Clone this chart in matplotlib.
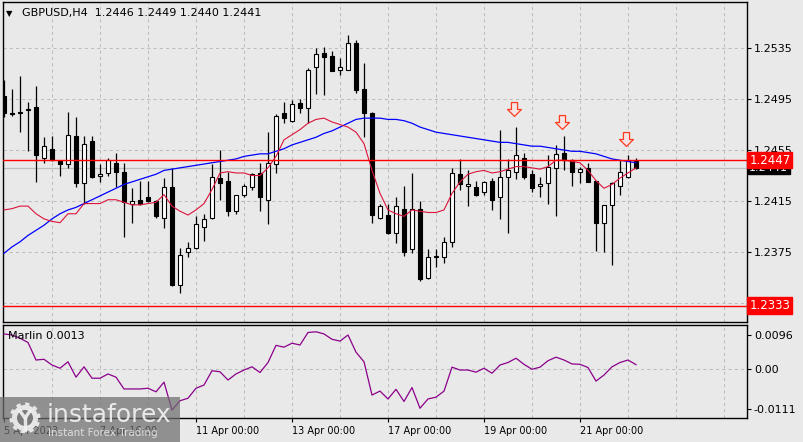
import numpy as np
import matplotlib
matplotlib.use("Agg")
import matplotlib.pyplot as plt
import matplotlib.patches as mpatches
import matplotlib.transforms as mtransforms
from matplotlib.path import Path

# GBPUSD H4 candles
opens = [1.2497, 1.2484, 1.2484, 1.2486, 1.2489, 1.2449, 1.2456, 1.2446, 1.2444, 1.2466,
         1.2429, 1.2462, 1.2435, 1.2437, 1.2445, 1.2438, 1.2413, 1.2416, 1.2418, 1.2415,
         1.2402, 1.2426, 1.2349, 1.2375, 1.2378, 1.2395, 1.2402, 1.2433, 1.2431, 1.2407,
         1.2420, 1.2426, 1.2437, 1.2416, 1.2444, 1.2484, 1.2478, 1.2492, 1.2488, 1.2520,
         1.2531, 1.2529, 1.2518, 1.2518, 1.2539, 1.2503, 1.2484, 1.2402, 1.2404, 1.2390,
         1.2409, 1.2377, 1.2409, 1.2355, 1.2371, 1.2371, 1.2383, 1.2436, 1.2427, 1.2426,
         1.2422, 1.2431, 1.2418, 1.2434, 1.2438, 1.2449, 1.2436, 1.2427, 1.2429, 1.2441,
         1.2453, 1.2447, 1.2438, 1.2441, 1.2431, 1.2398, 1.2412, 1.2427, 1.2434, 1.2446]
highs = [1.2510, 1.2503, 1.2513, 1.2493, 1.2505, 1.2465, 1.2466, 1.2446, 1.2485, 1.2481,
         1.2466, 1.2466, 1.2444, 1.2449, 1.2453, 1.2445, 1.2425, 1.2431, 1.2431, 1.2416,
         1.2433, 1.2441, 1.2378, 1.2383, 1.2403, 1.2405, 1.2444, 1.2455, 1.2438, 1.2420,
         1.2428, 1.2437, 1.2445, 1.2469, 1.2483, 1.2493, 1.2494, 1.2495, 1.2519, 1.2535,
         1.2536, 1.2533, 1.2527, 1.2545, 1.2541, 1.2523, 1.2485, 1.2413, 1.2413, 1.2418,
         1.2427, 1.2437, 1.2415, 1.2377, 1.2377, 1.2387, 1.2441, 1.2448, 1.2439, 1.2431,
         1.2431, 1.2433, 1.2471, 1.2448, 1.2473, 1.2453, 1.2439, 1.2434, 1.2451, 1.2459,
         1.2466, 1.2448, 1.2442, 1.2445, 1.2431, 1.2412, 1.2430, 1.2447, 1.2451, 1.2449]
lows = [1.2481, 1.2482, 1.2469, 1.2454, 1.2430, 1.2445, 1.2446, 1.2435, 1.2441, 1.2426,
        1.2413, 1.2433, 1.2430, 1.2435, 1.2426, 1.2387, 1.2398, 1.2412, 1.2414, 1.2402,
        1.2394, 1.2348, 1.2343, 1.2371, 1.2377, 1.2384, 1.2401, 1.2416, 1.2403, 1.2405,
        1.2418, 1.2424, 1.2407, 1.2397, 1.2437, 1.2476, 1.2477, 1.2484, 1.2476, 1.2499,
        1.2498, 1.2517, 1.2514, 1.2518, 1.2500, 1.2465, 1.2398, 1.2401, 1.2389, 1.2382,
        1.2372, 1.2374, 1.2352, 1.2354, 1.2363, 1.2366, 1.2379, 1.2424, 1.2411, 1.2419,
        1.2420, 1.2408, 1.2401, 1.2390, 1.2432, 1.2432, 1.2422, 1.2418, 1.2413, 1.2403,
        1.2439, 1.2427, 1.2429, 1.2430, 1.2376, 1.2375, 1.2365, 1.2420, 1.2433, 1.2440]
closes = [1.2484, 1.2483, 1.2485, 1.2487, 1.2451, 1.2458, 1.2447, 1.2444, 1.2467, 1.2429,
          1.2460, 1.2434, 1.2436, 1.2447, 1.2438, 1.2414, 1.2415, 1.2413, 1.2415, 1.2403,
          1.2426, 1.2349, 1.2373, 1.2378, 1.2397, 1.2401, 1.2434, 1.2429, 1.2407, 1.2420,
          1.2427, 1.2436, 1.2418, 1.2445, 1.2482, 1.2480, 1.2491, 1.2488, 1.2518, 1.2530,
          1.2528, 1.2517, 1.2520, 1.2539, 1.2502, 1.2484, 1.2404, 1.2411, 1.2390, 1.2411,
          1.2375, 1.2409, 1.2354, 1.2371, 1.2372, 1.2383, 1.2437, 1.2428, 1.2428, 1.2420,
          1.2430, 1.2416, 1.2434, 1.2439, 1.2451, 1.2434, 1.2425, 1.2428, 1.2442, 1.2452,
          1.2447, 1.2438, 1.2440, 1.2430, 1.2398, 1.2412, 1.2429, 1.2438, 1.2446, 1.2441]

# fast (crimson) and slow (blue) moving averages
ma_fast = [1.2408, 1.2409, 1.2411, 1.2411, 1.2405, 1.2401, 1.2399, 1.2398, 1.2405, 1.2405,
           1.2413, 1.2413, 1.2413, 1.2416, 1.2416, 1.2414, 1.2412, 1.2412, 1.2413, 1.2414,
           1.2420, 1.2411, 1.2407, 1.2404, 1.2408, 1.2413, 1.2424, 1.2437, 1.2438, 1.2437,
           1.2437, 1.2435, 1.2435, 1.2441, 1.2450, 1.2463, 1.2467, 1.2471, 1.2476, 1.2479,
           1.2480, 1.2477, 1.2475, 1.2473, 1.2469, 1.2460, 1.2439, 1.2421, 1.2408, 1.2405,
           1.2403, 1.2408, 1.2407, 1.2406, 1.2406, 1.2408, 1.2421, 1.2430, 1.2436, 1.2438,
           1.2439, 1.2437, 1.2438, 1.2440, 1.2442, 1.2442, 1.2441, 1.2440, 1.2442, 1.2447,
           1.2447, 1.2446, 1.2445, 1.2439, 1.2431, 1.2425, 1.2428, 1.2433, 1.2437, 1.2441]
ma_slow = [1.2374, 1.2379, 1.2383, 1.2388, 1.2392, 1.2396, 1.2401, 1.2405, 1.2408, 1.2410,
           1.2413, 1.2416, 1.2419, 1.2422, 1.2425, 1.2428, 1.2430, 1.2432, 1.2434, 1.2436,
           1.2439, 1.2440, 1.2441, 1.2442, 1.2443, 1.2444, 1.2445, 1.2446, 1.2447, 1.2448,
           1.2450, 1.2451, 1.2452, 1.2452, 1.2454, 1.2456, 1.2459, 1.2461, 1.2463, 1.2465,
           1.2468, 1.2470, 1.2473, 1.2476, 1.2479, 1.2480, 1.2480, 1.2480, 1.2479, 1.2479,
           1.2478, 1.2476, 1.2473, 1.2471, 1.2469, 1.2468, 1.2467, 1.2466, 1.2465, 1.2464,
           1.2463, 1.2462, 1.2461, 1.2461, 1.2460, 1.2459, 1.2458, 1.2458, 1.2457, 1.2456,
           1.2455, 1.2454, 1.2454, 1.2453, 1.2452, 1.2450, 1.2448, 1.2447, 1.2446, 1.2445]

# Marlin oscillator
marlin = [0.0099, 0.0096, 0.0087, 0.0075, 0.0026, 0.0028, 0.0012, 0.0003, 0.0021, -0.0022,
          0.0007, -0.0025, -0.0025, -0.0013, -0.0022, -0.0055, -0.0055, -0.0055, -0.0053, -0.0063,
          -0.0036, -0.0114, -0.0088, -0.0081, -0.0053, -0.0044, -0.0004, -0.0007, -0.0030, -0.0013,
          -0.0002, 0.0007, -0.0009, 0.0019, 0.0067, 0.0062, 0.0073, 0.0068, 0.0103, 0.0105,
          0.0099, 0.0084, 0.0079, 0.0096, 0.0048, 0.0021, -0.0072, -0.0061, -0.0083, -0.0056,
          -0.0090, -0.0051, -0.0109, -0.0083, -0.0078, -0.0061, 0.0006, -0.0002, -0.0002, -0.0008,
          0.0003, -0.0011, 0.0012, 0.0019, 0.0031, 0.0014, 0.0000, 0.0006, 0.0024, 0.0034,
          0.0026, 0.0015, 0.0014, 0.0005, -0.0033, -0.0016, 0.0007, 0.0019, 0.0026, 0.0013]

level_lines = [1.2447, 1.2333]
last_price = 1.2441
price_ticks = [1.2535, 1.2495, 1.2455, 1.2415, 1.2375, 1.2335]
osc_ticks = [0.0096, 0.0, -0.0111]
osc_tick_labels = ["0.0096", "0.00", "-0.0111"]
date_idx = [0, 12, 24, 36, 48, 60, 72]
date_labels = ["5 Apr 2023", "7 Apr 16:00", "11 Apr 00:00", "13 Apr 00:00",
               "17 Apr 00:00", "19 Apr 00:00", "21 Apr 00:00"]
arrow_idx = [63.7, 69.7, 77.7]
arrow_price = [1.2487, 1.2477, 1.2464]

BG = "#E9E9E9"
GRID = "#BDBDBD"
W, H = 804, 442

plt.rcParams["font.family"] = ["DejaVu Sans"]
fig = plt.figure(figsize=(W / 100, H / 100), dpi=100, facecolor=BG)


def px_axes(x0, y0, x1, y1):
    return fig.add_axes([x0 / W, 1 - y1 / H, (x1 - x0) / W, (y1 - y0) / H])


ax = px_axes(3, 2, 747, 322)
ax2 = px_axes(3, 325, 747, 418)

idx = np.arange(len(opens))
o = np.array(opens)
c = np.array(closes)
hi = np.array(highs)
lo = np.array(lows)

for a in (ax, ax2):
    a.set_facecolor(BG)
    a.set_xlim(-0.125, 92.875)
    for s in a.spines.values():
        s.set_color("black")
        s.set_linewidth(1.0)
    for g in range(6, 93, 6):
        a.axvline(g, color=GRID, lw=0.75, ls=(0, (3, 3)), zorder=0)

# main price panel
ax.set_ylim(1.23201, 1.25711)
for p in price_ticks:
    ax.axhline(p, color=GRID, lw=0.75, ls=(0, (3, 3)), zorder=0)
ax.axhline(last_price, color="#C0C0C0", lw=0.9, zorder=1)

ax.vlines(idx, lo, hi, color="black", lw=0.9, zorder=2)
up = c >= o
body_h = np.maximum(np.abs(c - o), 0.00002)
ax.bar(idx, body_h, bottom=np.minimum(o, c), width=0.55,
       color=np.where(up, "white", "black"), edgecolor="black", linewidth=0.8, zorder=3)

ax.plot(idx, ma_slow, color="#0000FF", lw=0.9, zorder=4)
ax.plot(idx, ma_fast, color="#DC143C", lw=0.8, zorder=4)
for lv in level_lines:
    ax.axhline(lv, color="#FF0000", lw=1.0, zorder=5)

# hollow down arrows
down_arrow = Path([(-0.22, 0.5), (0.22, 0.5), (0.22, 0.0), (0.5, 0.0), (0.0, -0.5),
                   (-0.5, 0.0), (-0.22, 0.0), (-0.22, 0.5)],
                  [Path.MOVETO] + [Path.LINETO] * 6 + [Path.CLOSEPOLY])
ax.plot(arrow_idx, arrow_price, ls="none", marker=down_arrow, markersize=10,
        markerfacecolor="#F6E4E4", markeredgecolor="#FF3B20", markeredgewidth=0.9, zorder=6)

ax.set_xticks([])
ax.yaxis.tick_right()
ax.set_yticks(price_ticks)
ax.set_yticklabels([f"{p:.4f}" for p in price_ticks])
ax.tick_params(axis="y", direction="out", length=3, width=0.8, pad=2, labelsize=8, colors="black")

trans = mtransforms.blended_transform_factory(ax.transAxes, ax.transData)
ax.text(1.003, last_price, f"{last_price:.4f}", transform=trans, fontsize=8, color="white",
        ha="left", va="center", clip_on=False, zorder=7,
        bbox=dict(boxstyle="square,pad=0.12", fc="black", ec="black"))
for lv in level_lines:
    ax.text(1.003, lv, f"{lv:.4f}", transform=trans, fontsize=8.5, color="white",
            ha="left", va="center", clip_on=False, zorder=8,
            bbox=dict(boxstyle="square,pad=0.15", fc="#FF0000", ec="#FF0000"))

ax.text(0.0085, 0.965, "\u25bc", transform=ax.transAxes, fontsize=6, ha="center", va="center")
ax.text(0.0255, 0.965, f"GBPUSD,H4  {opens[-1]:.4f} {highs[-1]:.4f} {lows[-1]:.4f} {closes[-1]:.4f}",
        transform=ax.transAxes, fontsize=8, ha="left", va="center")

# oscillator panel
ax2.set_ylim(-0.01363, 0.0124)
ax2.axhline(0, color=GRID, lw=0.75, ls=(0, (3, 3)), zorder=0)
ax2.plot(idx, marlin, color="#8B008B", lw=0.9, zorder=3)
ax2.yaxis.tick_right()
ax2.set_yticks(osc_ticks)
ax2.set_yticklabels(osc_tick_labels)
ax2.tick_params(axis="y", direction="out", length=3, width=0.8, pad=2, labelsize=8)
ax2.set_xticks(date_idx)
ax2.set_xticklabels(date_labels)
ax2.tick_params(axis="x", direction="out", length=3, width=0.8, pad=3, labelsize=7)
for lab in ax2.get_xticklabels():
    lab.set_ha("left")
ax2.text(0.007, 0.88, f"Marlin {marlin[-1]:.4f}", transform=ax2.transAxes, fontsize=8,
         ha="left", va="center")

# watermark
wm = fig.add_axes([0, 0, 180 / W, 45 / H])
wm.set_xlim(0, 180)
wm.set_ylim(0, 45)
wm.axis("off")
wm.add_patch(mpatches.Rectangle((0, 0), 180, 45, fc="#6E6E6E", alpha=0.72, ec="none"))
t = np.linspace(0, 2 * np.pi, 400)
r = 13 + 2.5 * (np.sin(10 * t) > 0)
wm.add_patch(mpatches.Polygon(np.c_[25 + r * np.cos(t), 24 + r * np.sin(t)],
                              closed=True, fc="#F0F0F0", ec="none", alpha=0.9))
wm.add_patch(mpatches.Circle((25, 24), 8, fc="#7A7A7A", ec="none"))
wm.plot([20, 25, 30], [31, 24, 31], color="#F0F0F0", lw=2.5, alpha=0.9)
wm.plot([25, 25], [24, 12], color="#F0F0F0", lw=2.5, alpha=0.9)
wm.text(47, 20, "instaforex", fontsize=18, color="#F4F4F4", alpha=0.9, ha="left", va="baseline")
wm.text(48, 5.5, "Instant Forex Trading", fontsize=7.5, color="#E6E6E6", alpha=0.9,
        ha="left", va="baseline")

fig.savefig("out.png", dpi=100, facecolor=BG)
